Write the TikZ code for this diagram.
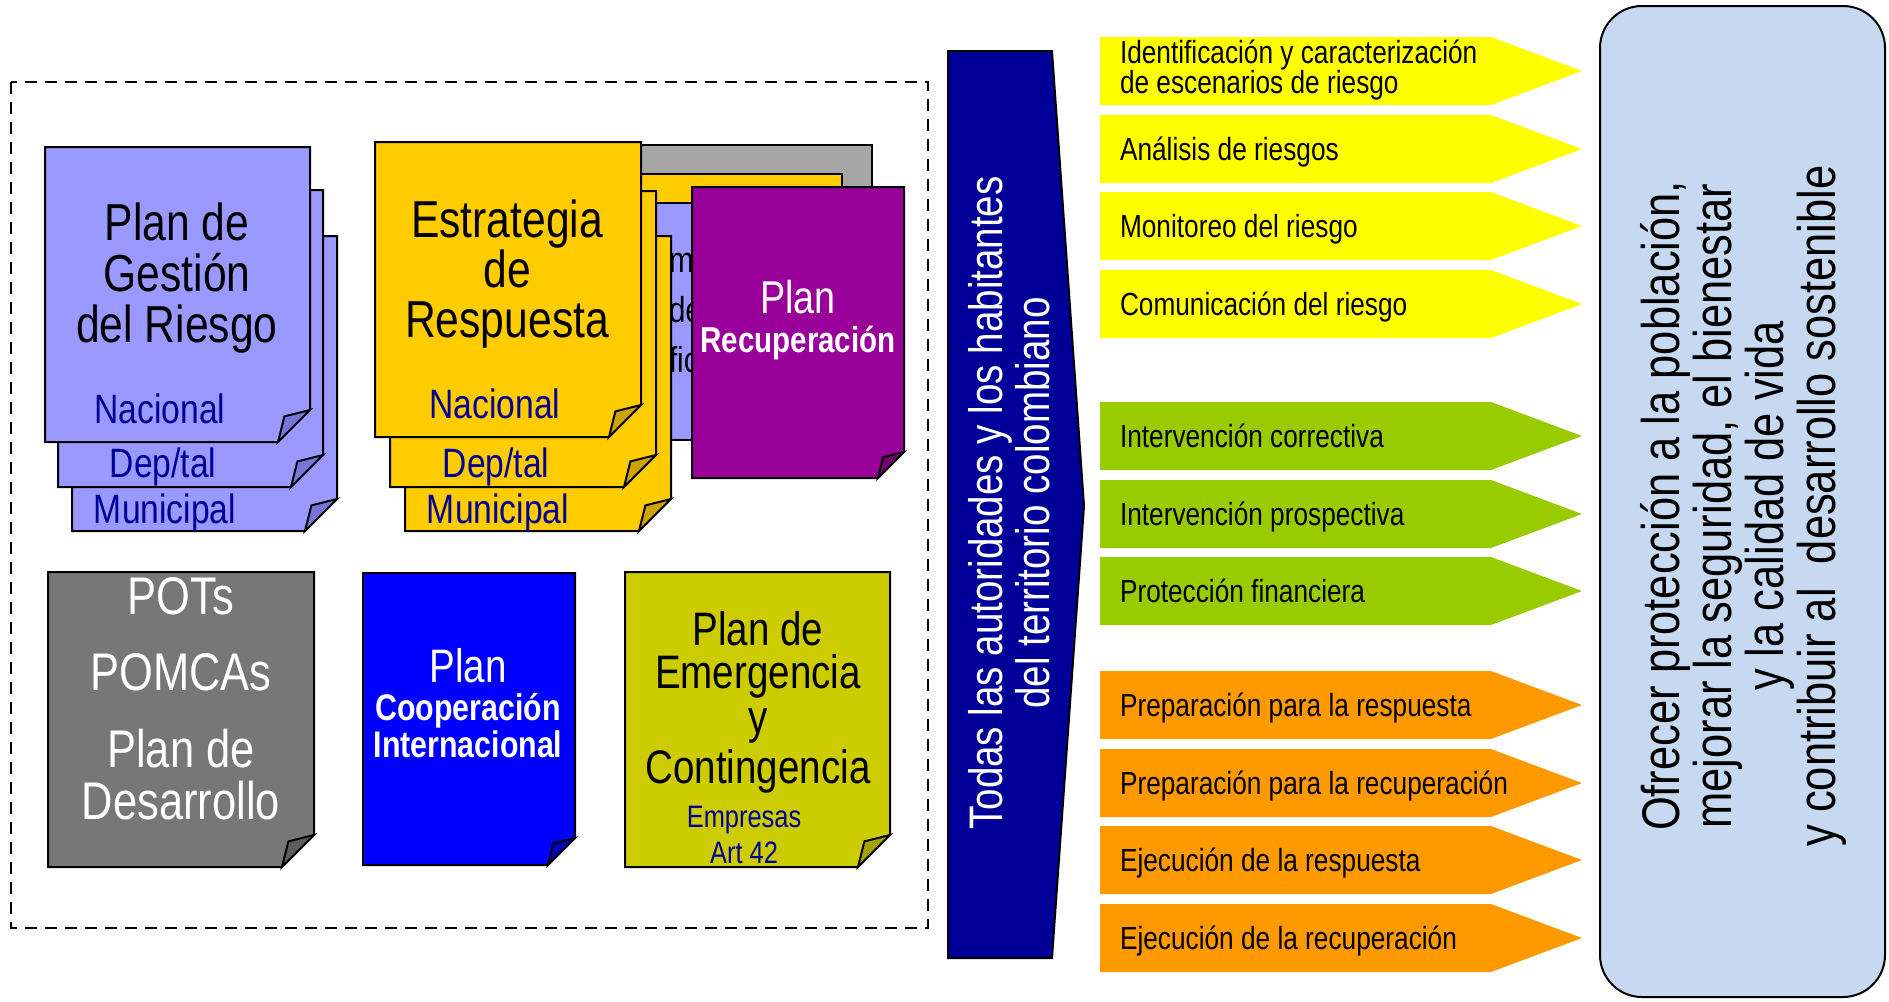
\documentclass[tikz,border=0pt]{standalone}
\usepackage{fontspec}
\setmainfont{Liberation Sans}[FakeStretch=0.82]
\definecolor{peri}{HTML}{9999FF}
\definecolor{periD}{HTML}{7676D8}
\definecolor{gold}{HTML}{FFCC00}
\definecolor{goldD}{HTML}{CCA300}
\definecolor{grayA}{HTML}{A6A6A6}
\definecolor{potgray}{HTML}{777777}
\definecolor{potD}{HTML}{5C5C5C}
\definecolor{coopblue}{HTML}{0000FF}
\definecolor{coopD}{HTML}{0000B8}
\definecolor{olive}{HTML}{CCCC00}
\definecolor{oliveD}{HTML}{A3A300}
\definecolor{purp}{HTML}{990099}
\definecolor{purpD}{HTML}{700070}
\definecolor{navy}{HTML}{000099}
\definecolor{lblue}{HTML}{000099}
\definecolor{yel}{HTML}{FFFF00}
\definecolor{grn}{HTML}{99CC00}
\definecolor{org}{HTML}{FF9900}
\definecolor{lightbox}{HTML}{C6D9F1}
\newcommand{\fsz}[1]{\fontsize{#1}{#1}\selectfont}
% x1 y1 x2 y2 fill flap fold
\newcommand{\docpage}[7]{%
  \draw[docline, fill=#5] (#1,#2) -- (#3,#2) -- (#3,#4-#7) -- (#3-#7,#4) -- (#1,#4) -- cycle;
  \draw[docline, fill=#6] (#3,#4-#7) -- (#3-0.8*#7,#4-0.8*#7) -- (#3-#7,#4) -- cycle;
}
% top y, colour, name, text
\newcommand{\tagarrow}[4]{%
  \fill[#2] (1100,#1) -- (1491,#1) -- (1582,#1+34) -- (1491,#1+68) -- (1100,#1+68) -- cycle;
  \node[t, anchor=base west, font=\fsz{32}] (#3) at (1120,#1+45) {#4};
}
\begin{document}
\begin{tikzpicture}[x=1pt,y=-1pt,
  docline/.style={draw=black, line width=2pt, line join=miter},
  t/.style={anchor=base, inner sep=0pt, outer sep=0pt},
  lbl/.style={t, text=lblue, font=\fsz{41}},
  big/.style={t, font=\fsz{52}}]
\useasboundingbox (0,0) rectangle (1889,1001);

% dashed frame
\draw[line width=2.5pt, dash pattern=on 12pt off 8pt] (11,82) rectangle (928,928);

% Plan de Gestion del Riesgo stack
\docpage{72}{236}{337}{531}{peri}{periD}{32}
\node[lbl] (gmun) at (165,523) {Municipal};
\docpage{58}{190}{323}{487}{peri}{periD}{32}
\node[lbl] (gdep) at (163,477) {Dep/tal};
\docpage{45}{147}{310}{442}{peri}{periD}{32}
\node[lbl] (gnac) at (160,423) {Nacional};
\node[big] (g1) at (177,240) {Plan de};
\node[big] (g2) at (177,291) {Gestión};
\node[big] (g3) at (177,342) {del Riesgo};

% documents behind Estrategia
\draw[docline, fill=grayA] (600,145) rectangle (872,420);
\draw[docline, fill=gold] (600,174) rectangle (842,420);
\draw[docline, fill=peri] (600,203) rectangle (720,440);
\node[t, anchor=base west, font=\fsz{36}] (f1) at (669,272) {m};
\node[t, anchor=base west, font=\fsz{36}] (f2) at (669,322) {de};
\node[t, anchor=base west, font=\fsz{36}] (f3) at (669,372) {fic};

% Estrategia de Respuesta stack
\docpage{405}{236}{671}{531}{gold}{goldD}{32}
\node[lbl] (emun) at (498,523) {Municipal};
\docpage{390}{191}{656}{487}{gold}{goldD}{32}
\node[lbl] (edep) at (496,477) {Dep/tal};
\docpage{375}{142}{641}{437}{gold}{goldD}{32}
\node[lbl] (enac) at (495,418) {Nacional};
\node[big] (e1) at (507,237) {Estrategia};
\node[big] (e2) at (507,287) {de};
\node[big] (e3) at (507,337) {Respuesta};

% Plan Recuperacion
\docpage{692}{187}{904}{478}{purp}{purpD}{26}
\node[t, text=white, font=\fsz{46}] (r1) at (798,313) {Plan};
\node[t, text=white, font=\bfseries\fsz{36}] (r2) at (798,352) {Recuperación};

% POTs
\docpage{48}{572}{314}{867}{potgray}{potD}{32}
\node[t, text=white, font=\fsz{53}] (p1) at (181,614) {POTs};
\node[t, text=white, font=\fsz{53}] (p2) at (181,690) {POMCAs};
\node[t, text=white, font=\fsz{53}] (p3) at (181,767) {Plan de};
\node[t, text=white, font=\fsz{53}] (p4) at (181,819) {Desarrollo};

% Plan Cooperacion Internacional
\docpage{363}{573}{575}{865}{coopblue}{coopD}{27}
\node[t, text=white, font=\fsz{47}] (c1) at (468,682) {Plan};
\node[t, text=white, font=\bfseries\fsz{37}] (c2) at (468,720) {Cooperación};
\node[t, text=white, font=\bfseries\fsz{37}] (c3) at (468,757) {Internacional};

% Plan de Emergencia y Contingencia
\docpage{625}{572}{890}{867}{olive}{oliveD}{32}
\node[t, font=\fsz{47}] (m1) at (758,645) {Plan de};
\node[t, font=\fsz{47}] (m2) at (758,688) {Emergencia};
\node[t, font=\fsz{47}] (m3) at (758,733) {y};
\node[t, font=\fsz{47}] (m4) at (758,783) {Contingencia};
\node[t, text=lblue, font=\fsz{31}] (m5) at (744,827) {Empresas};
\node[t, text=lblue, font=\fsz{31}] (m6) at (744,863) {Art 42};

% big navy arrow
\draw[line width=2pt, fill=navy] (948,51) -- (1052,51) -- (1084,506) -- (1052,958) -- (948,958) -- cycle;
\node[rotate=90, align=center, text=white, inner sep=0pt, font=\fsz{47}] (todas) at (1009,503)
  {Todas las autoridades y los habitantes\\del territorio colombiano};

% process arrows
\tagarrow{37}{yel}{y1}{}
\node[t, anchor=base west, font=\fsz{32}] (y1a) at (1120,63) {Identificación y caracterización};
\node[t, anchor=base west, font=\fsz{32}] (y1b) at (1120,93) {de escenarios de riesgo};
\tagarrow{115}{yel}{y2}{Análisis de riesgos}
\tagarrow{192}{yel}{y3}{Monitoreo del riesgo}
\tagarrow{270}{yel}{y4}{Comunicación del riesgo}
\tagarrow{402}{grn}{g5}{Intervención correctiva}
\tagarrow{480}{grn}{g6}{Intervención prospectiva}
\tagarrow{557}{grn}{g7}{Protección financiera}
\tagarrow{671}{org}{o1}{Preparación para la respuesta}
\tagarrow{749}{org}{o2}{Preparación para la recuperación}
\tagarrow{826}{org}{o3}{Ejecución de la respuesta}
\tagarrow{904}{org}{o4}{Ejecución de la recuperación}

% goal box
\draw[line width=2pt, fill=lightbox, rounded corners=42pt] (1600,6) rectangle (1885,997);
\node[rotate=90, align=center, inner sep=0pt, font=\fontsize{53}{52}\selectfont] (meta) at (1743,506)
  {Ofrecer protección a la población,\\mejorar la seguridad, el bienestar\\y la calidad de vida\\y contribuir al\ \ desarrollo sostenible};
\end{tikzpicture}
\end{document}
